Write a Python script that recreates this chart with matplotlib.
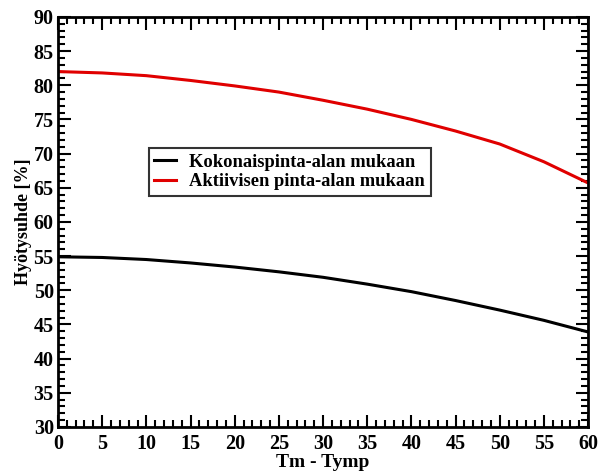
import matplotlib
matplotlib.use("Agg")
import matplotlib.pyplot as plt
from matplotlib.ticker import MultipleLocator

# temperature difference Tm - Tymp
dt = [0, 5, 10, 15, 20, 25, 30, 35, 40, 45, 50, 55, 60]
# efficiency [%]
eff_total = [54.9, 54.8, 54.5, 54.0, 53.4, 52.7, 51.9, 50.9, 49.8, 48.5, 47.1, 45.6, 43.9]
eff_active = [82.0, 81.8, 81.4, 80.7, 79.9, 79.0, 77.8, 76.5, 75.0, 73.3, 71.4, 68.8, 65.7]
labels = ["Kokonaispinta-alan mukaan", "Aktiivisen pinta-alan mukaan"]

plt.rcParams["font.family"] = "Liberation Serif"
plt.rcParams["font.weight"] = "bold"

fig = plt.figure(figsize=(5.99, 4.73), dpi=100)
ax = fig.add_axes([0.0968, 0.0973, 0.885, 0.867])

ax.plot(dt, eff_total, color="black", lw=2.2, label=labels[0])
ax.plot(dt, eff_active, color="#e00000", lw=2.2, label=labels[1])

ax.set_xlim(0, 60)
ax.set_ylim(30, 90)
ax.xaxis.set_major_locator(MultipleLocator(5))
ax.xaxis.set_minor_locator(MultipleLocator(1))
ax.yaxis.set_major_locator(MultipleLocator(5))
ax.yaxis.set_minor_locator(MultipleLocator(1))
ax.tick_params(which="both", direction="in", top=True, right=True, width=1.5)
ax.tick_params(which="major", length=9, labelsize=14.5)
ax.tick_params(axis="x", which="major", pad=5)
ax.tick_params(axis="y", which="major", pad=3)
ax.tick_params(which="minor", length=5)
for s in ax.spines.values():
    s.set_linewidth(2)

ax.set_xlabel("Tm - Tymp", fontsize=14, fontweight="bold", labelpad=0)
ax.set_ylabel("Hyötysuhde [%]", fontsize=13, fontweight="bold", labelpad=1)

leg = ax.legend(loc="upper left", bbox_to_anchor=(0.171, 0.68), fontsize=13.3,
                frameon=True, fancybox=False, edgecolor="black",
                handlelength=1.2, handletextpad=0.7, borderpad=0.3,
                labelspacing=0.15, borderaxespad=0)
leg.get_frame().set_linewidth(1.5)

fig.savefig("out.png", dpi=100)
